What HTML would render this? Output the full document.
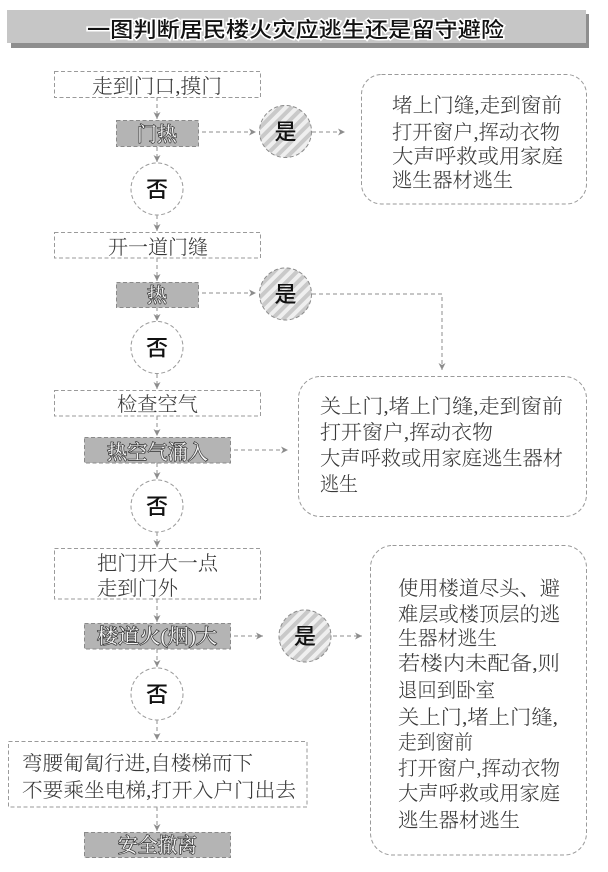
<!DOCTYPE html>
<html><head><meta charset="utf-8">
<style>
html,body{margin:0;padding:0;background:#fff;}
svg{display:block;}
.t{font-family:"Liberation Serif","Noto Serif CJK SC",serif;font-size:20px;fill:#383838;font-weight:300;}
.g{font-family:"Liberation Serif","Noto Serif CJK SC",serif;font-size:20px;fill:#f4f4f4;stroke:#333;stroke-width:1.4px;paint-order:stroke;}
.c{font-family:"Liberation Sans","Noto Sans CJK SC",sans-serif;font-size:22px;fill:#111;font-weight:500;}
.box{fill:#fff;stroke:#9a9a9a;stroke-width:1;stroke-dasharray:4 2.5;}
.gbox{fill:#b4b4b4;stroke:#8a8a8a;stroke-width:1;stroke-dasharray:4 2.5;}
.ln{fill:none;stroke:#8c8c8c;stroke-width:1;stroke-dasharray:4 3;}
</style></head>
<body>
<svg width="608" height="872" viewBox="0 0 608 872" xmlns="http://www.w3.org/2000/svg">
<defs>
<pattern id="hatch" width="8" height="8" patternUnits="userSpaceOnUse" patternTransform="rotate(45)">
<rect width="8" height="8" fill="#efefef"/>
<rect width="4" height="8" fill="#c9c9c9"/>
</pattern>
<marker id="ar" markerWidth="8" markerHeight="8" refX="7" refY="4" orient="auto" markerUnits="userSpaceOnUse">
<path d="M0,0.5 L7,4 L0,7.5 L2,4 z" fill="#8c8c8c"/>
</marker>
</defs>

<!-- title -->
<rect x="11" y="14" width="578" height="34" fill="#8e8e8e"/>
<rect x="7" y="10" width="579" height="33" fill="#c6c6c6"/>
<text x="87" y="37" textLength="417" lengthAdjust="spacingAndGlyphs" style="font-family:'Liberation Sans','Noto Sans CJK SC',sans-serif;font-size:21px;fill:#111;stroke:#fff;stroke-width:3px;paint-order:stroke;font-weight:500;">一图判断居民楼火灾应逃生还是留守避险</text>

<!-- connectors vertical -->
<line class="ln" x1="157" y1="97" x2="157" y2="119" marker-end="url(#ar)"/>
<line class="ln" x1="157" y1="147" x2="157" y2="162" marker-end="url(#ar)"/>
<line class="ln" x1="157" y1="215" x2="157" y2="231" marker-end="url(#ar)"/>
<line class="ln" x1="157" y1="258" x2="157" y2="281" marker-end="url(#ar)"/>
<line class="ln" x1="157" y1="307" x2="157" y2="321" marker-end="url(#ar)"/>
<line class="ln" x1="157" y1="374" x2="157" y2="389" marker-end="url(#ar)"/>
<line class="ln" x1="157" y1="416" x2="157" y2="436" marker-end="url(#ar)"/>
<line class="ln" x1="157" y1="463" x2="157" y2="479" marker-end="url(#ar)"/>
<line class="ln" x1="157" y1="532" x2="157" y2="547" marker-end="url(#ar)"/>
<line class="ln" x1="157" y1="599" x2="157" y2="622" marker-end="url(#ar)"/>
<line class="ln" x1="157" y1="649" x2="157" y2="667" marker-end="url(#ar)"/>
<line class="ln" x1="157" y1="720" x2="157" y2="740" marker-end="url(#ar)"/>
<line class="ln" x1="157" y1="807" x2="157" y2="831" marker-end="url(#ar)"/>

<!-- connectors horizontal -->
<line class="ln" x1="202" y1="132" x2="256" y2="132" marker-end="url(#ar)"/>
<line class="ln" x1="312" y1="132" x2="345" y2="132" marker-end="url(#ar)"/>
<line class="ln" x1="202" y1="293" x2="256" y2="293" marker-end="url(#ar)"/>
<path class="ln" d="M312,294 H442 V370" marker-end="url(#ar)"/>
<line class="ln" x1="234" y1="450" x2="288" y2="450" marker-end="url(#ar)"/>
<line class="ln" x1="234" y1="636" x2="263" y2="636" marker-end="url(#ar)"/>
<line class="ln" x1="333" y1="636" x2="362" y2="636" marker-end="url(#ar)"/>

<!-- left boxes -->
<rect class="box" x="54.5" y="71.5" width="206" height="26"/>
<text class="t" x="92" y="93" textLength="130" lengthAdjust="spacingAndGlyphs">走到门口,摸门</text>

<rect class="gbox" x="116.5" y="120.5" width="82" height="26"/>
<text class="g" x="137" y="141" textLength="40" lengthAdjust="spacingAndGlyphs">门热</text>

<circle cx="157" cy="189" r="26" fill="#fff" stroke="#9a9a9a" stroke-dasharray="4 2.5"/>
<text class="c" x="157" y="197" text-anchor="middle">否</text>

<rect class="box" x="54.5" y="232.5" width="206" height="25.5"/>
<text class="t" x="108" y="254" textLength="100" lengthAdjust="spacingAndGlyphs">开一道门缝</text>

<rect class="gbox" x="116.5" y="282.5" width="82" height="25"/>
<text class="g" x="147" y="302" textLength="20" lengthAdjust="spacingAndGlyphs">热</text>

<circle cx="157" cy="347.5" r="26" fill="#fff" stroke="#9a9a9a" stroke-dasharray="4 2.5"/>
<text class="c" x="157" y="355.5" text-anchor="middle">否</text>

<rect class="box" x="54.5" y="390.5" width="206" height="25.5"/>
<text class="t" x="117" y="411" textLength="81" lengthAdjust="spacingAndGlyphs">检查空气</text>

<rect class="gbox" x="84.5" y="437.5" width="146" height="25.5"/>
<text class="g" x="107" y="459" textLength="101" lengthAdjust="spacingAndGlyphs">热空气涌入</text>

<circle cx="157" cy="506" r="26" fill="#fff" stroke="#9a9a9a" stroke-dasharray="4 2.5"/>
<text class="c" x="157" y="514" text-anchor="middle">否</text>

<rect class="box" x="54.5" y="548.5" width="206" height="50.5"/>
<text class="t" x="97" y="570" textLength="121" lengthAdjust="spacingAndGlyphs">把门开大一点</text>
<text class="t" x="97" y="595" textLength="81" lengthAdjust="spacingAndGlyphs">走到门外</text>

<rect class="gbox" x="84.5" y="623.5" width="146" height="25.5"/>
<text class="g" x="97" y="643" textLength="120" lengthAdjust="spacingAndGlyphs">楼道火(烟)大</text>

<circle cx="157" cy="694" r="26" fill="#fff" stroke="#9a9a9a" stroke-dasharray="4 2.5"/>
<text class="c" x="157" y="702" text-anchor="middle">否</text>

<rect class="box" x="8.5" y="741.5" width="298.5" height="65.5"/>
<text class="t" x="22" y="770" textLength="231" lengthAdjust="spacingAndGlyphs">弯腰匍匐行进,自楼梯而下</text>
<text class="t" x="22" y="797" textLength="274" lengthAdjust="spacingAndGlyphs">不要乘坐电梯,打开入户门出去</text>

<rect class="gbox" x="84.5" y="832.5" width="146" height="25"/>
<text class="g" x="118" y="852" textLength="79" lengthAdjust="spacingAndGlyphs">安全撤离</text>

<!-- yes circles -->
<circle cx="285.5" cy="131.5" r="26" fill="url(#hatch)" stroke="#8c8c8c" stroke-dasharray="4 2.5"/>
<text class="c" x="285.5" y="139.5" text-anchor="middle">是</text>
<circle cx="285.5" cy="294" r="26" fill="url(#hatch)" stroke="#8c8c8c" stroke-dasharray="4 2.5"/>
<text class="c" x="285.5" y="302" text-anchor="middle">是</text>
<circle cx="305" cy="636" r="26" fill="url(#hatch)" stroke="#8c8c8c" stroke-dasharray="4 2.5"/>
<text class="c" x="305" y="644" text-anchor="middle">是</text>

<!-- right boxes -->
<rect class="box" x="361.5" y="74.5" width="225" height="129.5" rx="20" ry="20"/>
<text class="t" x="392" y="112" textLength="170" lengthAdjust="spacingAndGlyphs">堵上门缝,走到窗前</text>
<text class="t" x="392" y="139" textLength="168" lengthAdjust="spacingAndGlyphs">打开窗户,挥动衣物</text>
<text class="t" x="392" y="163" textLength="171" lengthAdjust="spacingAndGlyphs">大声呼救或用家庭</text>
<text class="t" x="392" y="187" textLength="121" lengthAdjust="spacingAndGlyphs">逃生器材逃生</text>

<rect class="box" x="298.5" y="376.5" width="288" height="140" rx="22" ry="22"/>
<text class="t" x="320" y="413" textLength="243" lengthAdjust="spacingAndGlyphs">关上门,堵上门缝,走到窗前</text>
<text class="t" x="320" y="439" textLength="173" lengthAdjust="spacingAndGlyphs">打开窗户,挥动衣物</text>
<text class="t" x="320" y="465" textLength="243" lengthAdjust="spacingAndGlyphs">大声呼救或用家庭逃生器材</text>
<text class="t" x="320" y="491" textLength="38" lengthAdjust="spacingAndGlyphs">逃生</text>

<rect class="box" x="370.5" y="545.5" width="216" height="309.5" rx="22" ry="22"/>
<text class="t" x="398" y="595" textLength="162" lengthAdjust="spacingAndGlyphs">使用楼道尽头、避</text>
<text class="t" x="398" y="621" textLength="162" lengthAdjust="spacingAndGlyphs">难层或楼顶层的逃</text>
<text class="t" x="398" y="645" textLength="99" lengthAdjust="spacingAndGlyphs">生器材逃生</text>
<text class="t" x="398" y="670" textLength="162" lengthAdjust="spacingAndGlyphs">若楼内未配备,则</text>
<text class="t" x="398" y="697" textLength="97" lengthAdjust="spacingAndGlyphs">退回到卧室</text>
<text class="t" x="398" y="724" textLength="160" lengthAdjust="spacingAndGlyphs">关上门,堵上门缝,</text>
<text class="t" x="398" y="749" textLength="75" lengthAdjust="spacingAndGlyphs">走到窗前</text>
<text class="t" x="398" y="775" textLength="162" lengthAdjust="spacingAndGlyphs">打开窗户,挥动衣物</text>
<text class="t" x="398" y="800" textLength="162" lengthAdjust="spacingAndGlyphs">大声呼救或用家庭</text>
<text class="t" x="398" y="827" textLength="122" lengthAdjust="spacingAndGlyphs">逃生器材逃生</text>
</svg>
</body></html>
